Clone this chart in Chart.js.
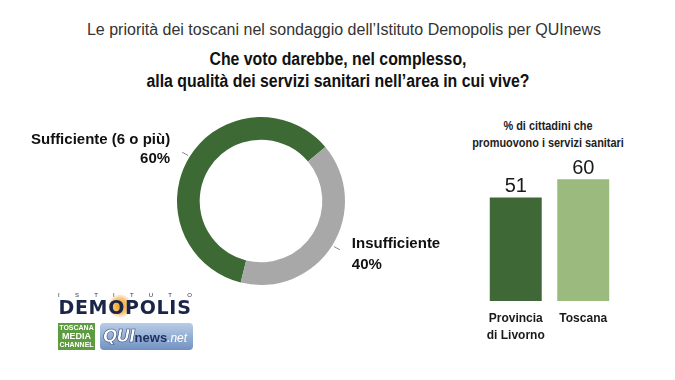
<!DOCTYPE html>
<html><head><meta charset="utf-8">
<script src="https://cdn.jsdelivr.net/npm/chart.js@4.4.0/dist/chart.umd.min.js"></script>
<style>
html,body{margin:0;padding:0;background:#fff;}
body{width:675px;height:380px;position:relative;overflow:hidden;font-family:"Liberation Sans",Arial,sans-serif;}
.abs{position:absolute;}
#t1{left:0;width:688px;top:21px;text-align:center;font-size:16px;line-height:18px;color:#333;white-space:nowrap;}
#t2{left:0;width:676px;top:48px;text-align:center;font-weight:bold;font-size:18px;line-height:22px;color:#111;white-space:nowrap;transform:scaleX(0.88);transform-origin:338px 0;}
#bt{left:448px;width:200px;top:117px;text-align:center;font-weight:bold;font-size:13px;line-height:17px;color:#222;white-space:nowrap;transform:scaleX(0.84);transform-origin:100px 0;}
#dn{left:0;top:100px;width:460px;height:200px;}
#bc{left:470px;top:90px;width:170px;height:260px;}
#ist{left:58px;top:292px;width:134px;display:flex;justify-content:space-between;font-size:6px;line-height:7px;color:#1c2a4a;}
#glow{left:108px;top:294px;width:24px;height:24px;border-radius:50%;background:radial-gradient(circle,#f59e17 0%,#f8c57a 45%,rgba(255,255,255,0) 72%);}
#demo{left:56px;top:297px;width:138px;text-align:center;font-family:"DejaVu Sans",sans-serif;font-weight:bold;font-size:19px;line-height:20px;color:#1b2547;letter-spacing:0.7px;white-space:nowrap;}
#tmc{left:58px;top:323px;width:37px;height:27px;background:#5c9b3e;color:#fff;font-weight:bold;font-size:7px;line-height:8px;text-align:center;padding-top:1px;box-sizing:border-box;white-space:nowrap;}
#tmc .m{font-size:9px;line-height:9px;}
#qui{left:100px;top:323px;width:93px;height:27px;border-radius:4px;background:linear-gradient(#b9cce6,#7092c2);box-sizing:border-box;padding-left:3px;white-space:nowrap;overflow:hidden;}
#qui .q{font-family:"DejaVu Sans",sans-serif;font-weight:bold;font-style:italic;font-size:17px;line-height:27px;color:#fff;-webkit-text-stroke:0.6px #2a3f6e;letter-spacing:-1px;}
#qui .n{font-weight:bold;font-size:13px;color:#1e2f5c;}
#qui .d{font-style:italic;font-size:12px;color:#fff;}
</style>
</head><body>
<div id="t1" class="abs">Le priorità dei toscani nel sondaggio dell’Istituto Demopolis per QUInews</div>
<div id="t2" class="abs">Che voto darebbe, nel complesso,<br>alla qualità dei servizi sanitari nell’area in cui vive?</div>
<div id="bt" class="abs">% di cittadini che<br>promuovono i servizi sanitari</div>
<div class="abs" id="dn"><canvas id="c1" width="460" height="200"></canvas></div>
<div class="abs" id="bc"><canvas id="c2" width="170" height="260"></canvas></div>
<div class="abs" id="ist"><span>I</span><span>S</span><span>T</span><span>I</span><span>T</span><span>U</span><span>T</span><span>O</span></div>
<div class="abs" id="glow"></div>
<div class="abs" id="demo">DEMOPOLIS</div>
<div class="abs" id="tmc">TOSCANA<br><span class="m">MEDIA</span><br>CHANNEL</div>
<div class="abs" id="qui"><span class="q">QUI</span><span class="n">news</span><span class="d">.net</span></div>
<script>
// ---- data ----
const pieLabels = ["Sufficiente (6 o più)", "Insufficiente"];
const pieValues = [60, 40];
const barLabels = [["Provincia", "di Livorno"], "Toscana"];
const barValues = [51, 60];

const GREEN = "#3d6a34", GRAY = "#a8a8a8";
const BAR1 = "#3e6836", BAR2 = "#9bba7d";

const pieLabelPlugin = {
  id: "pieLabels",
  afterDatasetsDraw(chart) {
    const ctx = chart.ctx;
    const meta = chart.getDatasetMeta(0);
    meta.data.forEach((arc, i) => {
      const mid = (arc.startAngle + arc.endAngle) / 2;
      const cx = Math.cos(mid), cy = Math.sin(mid);
      const r = arc.outerRadius;
      const sx = arc.x + cx * (r + 2), sy = arc.y + cy * (r + 2);
      const ex = arc.x + cx * (r + 9), ey = arc.y + cy * (r + 8);
      ctx.save();
      ctx.strokeStyle = "#8a8a8a";
      ctx.lineWidth = 1;
      ctx.beginPath(); ctx.moveTo(sx, sy); ctx.lineTo(ex, ey); ctx.stroke();
      ctx.fillStyle = "#111";
      ctx.font = "bold 15px 'Liberation Sans', Arial, sans-serif";
      ctx.textBaseline = "middle";
      const pct = pieValues[i] + "%";
      if (cx < 0) {
        ctx.textAlign = "right";
        ctx.fillText(pieLabels[i], ex - 12, ey - 12);
        ctx.fillText(pct, ex - 12, ey + 7);
      } else {
        ctx.textAlign = "left";
        ctx.fillText(pieLabels[i], ex + 12, ey - 6);
        ctx.fillText(pct, ex + 12, ey + 15);
      }
      ctx.restore();
    });
  }
};

new Chart(document.getElementById("c1"), {
  type: "doughnut",
  data: { labels: pieLabels, datasets: [{ data: pieValues, backgroundColor: [GREEN, GRAY], borderWidth: 0 }] },
  options: {
    responsive: false, animation: false, rotation: 194, cutout: "73%",
    layout: { padding: { left: 177, right: 115, top: 17, bottom: 15 } },
    plugins: { legend: { display: false }, tooltip: { enabled: false } }
  },
  plugins: [pieLabelPlugin]
});

const barValuePlugin = {
  id: "barValues",
  afterDatasetsDraw(chart) {
    const ctx = chart.ctx;
    chart.getDatasetMeta(0).data.forEach((bar, i) => {
      ctx.save();
      ctx.fillStyle = "#1a1a1a";
      ctx.font = "20px 'Liberation Sans', Arial, sans-serif";
      ctx.textAlign = "center";
      ctx.textBaseline = "alphabetic";
      ctx.fillText(String(barValues[i]), bar.x, bar.y - 5);
      ctx.restore();
    });
  }
};

new Chart(document.getElementById("c2"), {
  type: "bar",
  data: { labels: barLabels, datasets: [{ data: barValues, backgroundColor: [BAR1, BAR2], borderWidth: 0 }] },
  options: {
    responsive: false, animation: false,
    layout: { padding: { left: 12, right: 23, top: 8, bottom: 9 } },
    datasets: { bar: { categoryPercentage: 1, barPercentage: 0.77 } },
    scales: {
      x: {
        grid: { display: false, drawTicks: false }, border: { display: false },
        ticks: { color: "#1a1a1a", padding: 9, maxRotation: 0, minRotation: 0, autoSkip: false,
                 font: { family: "'Liberation Sans', Arial, sans-serif", weight: "bold", size: 12, lineHeight: 1.4 } },
        afterFit: (s) => { s.height = 40; }
      },
      y: { display: false, min: 0, max: 100 }
    },
    plugins: { legend: { display: false }, tooltip: { enabled: false } }
  },
  plugins: [barValuePlugin]
});
</script>
</body></html>
